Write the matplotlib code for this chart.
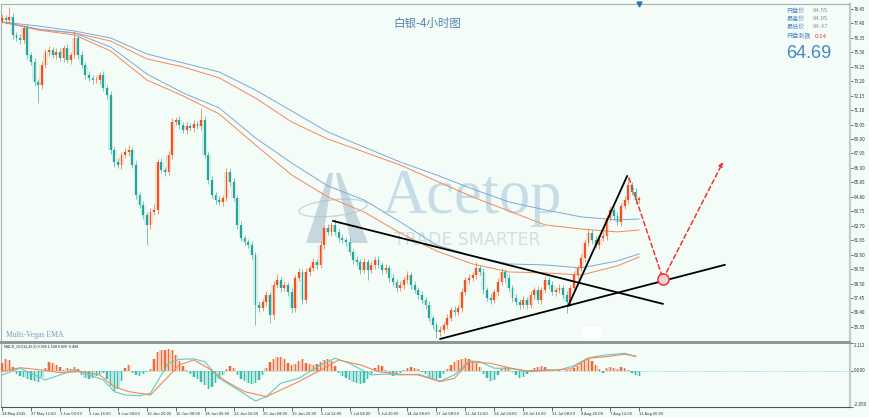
import numpy as np
import matplotlib
matplotlib.use("Agg")
import matplotlib.pyplot as plt
from matplotlib.patches import Polygon, Ellipse, Rectangle

plt.rcParams['font.family'] = ['Noto Sans CJK SC', 'DejaVu Sans']

# ---- candle data (4h bars, every 2nd bar) ----
first_open = 77.60
close = [
    77.80, 77.65, 77.87, 76.56, 76.34, 76.20, 77.07, 75.11, 74.60, 73.15,
    72.93, 74.38, 75.33, 75.47, 75.11, 75.33, 74.89, 75.62, 74.74, 75.11,
    76.34, 75.11, 74.38, 73.65, 73.44, 73.29, 73.29, 73.65, 72.71, 72.20,
    68.20, 67.33, 67.11, 67.84, 68.06, 68.20, 67.11, 64.93, 64.21, 63.48,
    62.76, 63.70, 63.85, 67.33, 66.75, 66.61, 67.84, 70.24, 70.38, 70.02,
    69.66, 69.95, 69.80, 70.09, 69.95, 70.38, 67.84, 66.02, 64.93, 64.57,
    64.43, 64.72, 66.61, 65.88, 64.72, 62.76, 61.81, 61.52, 61.30, 60.58,
    56.94, 56.72, 57.16, 57.67, 56.22, 58.40, 58.76, 58.18, 58.40, 57.89,
    56.72, 58.90, 59.34, 57.30, 59.34, 59.63, 60.07, 59.85, 61.30, 62.54,
    62.25, 62.76, 62.25, 61.81, 61.67, 61.52, 60.79, 60.21, 60.07, 59.49,
    60.07, 59.49, 59.85, 60.21, 59.85, 59.49, 59.63, 58.90, 58.61, 58.18,
    58.40, 58.76, 59.12, 58.40, 58.03, 57.67, 57.30, 56.94, 55.99, 55.49,
    54.98, 55.13, 55.49, 55.99, 56.57, 56.43, 56.72, 57.89, 58.76, 58.90,
    59.12, 59.63, 59.34, 58.03, 57.45, 57.30, 57.89, 58.61, 59.34, 58.90,
    58.18, 57.45, 57.16, 56.94, 57.30, 56.94, 57.67, 58.03, 57.30, 58.03,
    58.76, 58.40, 57.89, 58.03, 58.18, 57.67, 57.16, 58.18, 59.12, 59.63,
    60.36, 61.46, 62.18, 61.67, 61.30, 61.81, 61.96, 63.26, 63.85, 63.41,
    62.97, 64.14, 64.57, 65.66, 65.15, 64.57, 64.69,
]
upper_wick = [
    0.3, 0.2, 0.7, 0.3, 0.2, 0.3, 0.2, 0.3, 0.2, 0.3,
    0.2, 0.3, 0.2, 0.3, 0.2, 0.3, 0.3, 0.2, 0.3, 0.2,
    0.4, 0.2, 0.3, 0.2, 0.3, 0.2, 0.3, 0.2, 0.3, 0.2,
    0.3, 0.2, 0.3, 0.2, 0.3, 0.4, 0.2, 0.3, 0.2, 0.3,
    0.2, 0.3, 0.4, 0.2, 0.3, 0.2, 0.3, 0.3, 0.2, 0.3,
    0.2, 0.3, 0.2, 0.3, 0.2, 0.9, 0.3, 0.2, 0.3, 0.2,
    0.3, 0.2, 0.3, 0.2, 0.3, 0.2, 0.3, 0.2, 0.2, 0.3,
    0.2, 0.3, 0.2, 0.3, 0.2, 0.3, 0.4, 0.2, 0.3, 0.2,
    0.3, 0.2, 0.3, 0.2, 0.3, 0.2, 0.3, 0.2, 0.3, 0.2,
    0.3, 0.2, 0.4, 0.2, 0.3, 0.2, 0.3, 0.2, 0.3, 0.2,
    0.3, 0.2, 0.3, 0.2, 0.3, 0.2, 0.3, 0.2, 0.3, 0.2,
    0.3, 0.2, 0.3, 0.2, 0.3, 0.2, 0.3, 0.2, 0.3, 0.2,
    0.2, 0.3, 0.2, 0.3, 0.2, 0.3, 0.2, 0.3, 0.2, 0.3,
    0.2, 0.45, 0.2, 0.3, 0.2, 0.3, 0.2, 0.3, 0.3, 0.2,
    0.3, 0.2, 0.3, 0.2, 0.3, 0.2, 0.3, 0.2, 0.3, 0.2,
    0.3, 0.2, 0.3, 0.2, 0.3, 0.2, 0.3, 0.2, 0.3, 0.2,
    0.3, 0.2, 0.3, 0.2, 0.3, 0.2, 0.3, 0.2, 0.3, 0.2,
    0.3, 0.2, 0.3, 0.5, 0.2, 0.3, 0.2,
]
lower_wick = [
    0.2, 0.3, 0.2, 0.3, 0.2, 0.3, 0.2, 0.3, 0.2, 0.3,
    1.3, 0.3, 0.2, 0.3, 0.2, 0.3, 0.2, 0.3, 0.2, 0.3,
    0.2, 0.3, 0.2, 0.3, 0.2, 0.3, 0.2, 0.3, 0.2, 0.3,
    0.3, 0.4, 0.2, 0.3, 0.2, 0.3, 0.2, 0.3, 0.2, 0.3,
    1.45, 0.3, 0.2, 0.3, 0.2, 0.3, 0.2, 0.3, 0.2, 0.3,
    0.2, 0.3, 0.2, 0.3, 0.2, 0.3, 0.2, 0.3, 0.2, 0.3,
    0.2, 0.3, 0.2, 0.3, 0.2, 0.3, 0.2, 0.3, 0.2, 0.3,
    1.45, 0.3, 0.2, 0.3, 0.6, 0.3, 0.2, 0.3, 0.2, 0.3,
    0.36, 0.3, 0.2, 0.3, 0.2, 0.3, 0.2, 0.3, 0.2, 0.3,
    0.2, 0.3, 0.2, 0.3, 0.2, 0.3, 0.2, 0.3, 0.2, 0.3,
    0.2, 0.7, 0.2, 0.3, 0.2, 0.3, 0.2, 0.3, 0.2, 0.3,
    0.2, 0.3, 0.2, 0.3, 0.2, 0.3, 0.2, 0.3, 0.2, 0.3,
    0.45, 0.3, 0.2, 0.3, 0.2, 0.3, 0.2, 0.3, 0.2, 0.3,
    0.2, 0.3, 0.2, 0.3, 0.2, 0.3, 0.2, 0.3, 0.2, 0.3,
    0.2, 0.3, 0.2, 0.3, 0.2, 0.3, 0.2, 0.3, 0.2, 0.3,
    0.2, 0.3, 0.2, 0.3, 0.2, 0.3, 0.8, 0.3, 0.2, 0.3,
    0.2, 0.3, 0.2, 0.3, 0.2, 0.3, 0.2, 0.3, 0.2, 0.3,
    0.2, 0.3, 0.2, 0.3, 0.2, 0.3, 0.2,
]

# ---- Vegas EMA lines, sampled every 10 bars ----
ema_idx = [0, 10, 20, 30, 40, 50, 60, 70, 80, 90, 100, 110, 120, 130, 140, 150, 160, 170, 176]
ema_slow_blue = [77.50, 77.21, 76.85, 76.34, 75.18, 74.53, 73.87, 72.56, 71.04, 69.51,
                 68.42, 67.33, 66.39, 65.37, 64.43, 63.85, 63.34, 63.12, 63.19]
ema_slow_orange = [77.50, 76.98, 76.71, 76.12, 74.82, 74.24, 73.44, 71.98, 70.24, 69.00,
                   68.06, 67.11, 65.95, 64.79, 63.77, 62.76, 62.46, 62.25, 62.39]
ema_fast_blue = [77.50, 76.98, 76.71, 75.69, 73.73, 72.35, 71.26, 69.08, 67.26, 65.59,
                 64.57, 62.97, 61.30, 60.50, 59.92, 59.85, 59.63, 60.14, 60.65]
ema_fast_orange = [77.50, 76.92, 76.56, 75.40, 73.29, 72.13, 70.82, 68.57, 66.39, 64.79,
                   63.70, 62.17, 60.87, 59.92, 59.34, 59.27, 59.12, 59.78, 60.43]

# ---- drawn trend lines and projection ----
tl_down_x, tl_down_y = [91.4, 182.6], [63.05, 57.02]
tl_up_x, tl_up_y = [121.0, 199.7], [54.47, 59.86]
tl_steep_x, tl_steep_y = [156.4, 172.7], [56.87, 66.32]
proj_x = [173.2, 182.6, 199.2]
proj_y = [66.17, 58.83, 67.33]

# ---- MACD ----
macd_hist = [
    0.60, 0.90, 0.82, 0.30, -0.22, -0.37, -0.45, -0.60, -0.67, -0.75,
    -0.82, -0.45, 0.22, 0.67, 0.60, 0.45, 0.30, 0.07, 0.22, 0.15,
    0.30, 0.15, -0.30, -0.52, -0.60, -0.52, -0.37, -0.22, -0.15, -0.60,
    -1.12, -1.50, -1.35, -0.75, 0.22, 0.45, -0.15, -0.30, -0.37, -0.22,
    -0.07, 0.15, 0.90, 1.42, 1.57, 1.57, 1.65, 1.57, 1.20, 0.75,
    0.37, 0.07, -0.22, -0.45, -0.60, -0.82, -1.05, -1.35, -1.20, -0.90,
    -0.60, -0.30, 0.15, 0.37, 0.22, -0.30, -0.60, -0.75, -0.90, -0.97,
    -0.90, -0.67, -0.30, 0.22, 0.67, 0.90, 1.05, 1.05, 0.90, 0.60,
    0.45, 0.52, 0.75, 0.90, 0.60, 0.52, 0.45, 0.52, 0.67, 0.82,
    0.90, 0.75, 0.37, -0.15, -0.37, -0.52, -0.67, -0.82, -0.90, -0.97,
    -0.90, -0.60, -0.22, 0.22, 0.45, 0.37, 0.07, -0.22, -0.37, -0.30,
    -0.15, 0.07, 0.22, 0.30, 0.22, 0.15, -0.07, -0.22, -0.45, -0.60,
    -0.60, -0.52, -0.22, 0.15, 0.45, 0.67, 0.82, 0.90, 0.97, 0.90,
    0.75, 0.60, 0.30, -0.22, -0.52, -0.75, -0.67, -0.30, 0.15, 0.30,
    0.22, -0.07, -0.30, -0.52, -0.45, -0.22, 0.07, 0.22, 0.30, 0.37,
    0.30, 0.15, 0.04, -0.04, 0.04, -0.04, 0.04, 0.07, 0.22, 0.37,
    0.60, 0.82, 0.90, 0.75, 0.45, 0.15, -0.15, 0.22, 0.30, 0.22,
    0.15, 0.30, 0.22, 0.07, -0.15, -0.30, -0.37,
]
macd_main_idx = [0, 5, 9, 12, 16, 20, 24, 28, 31, 34, 38, 41, 44, 46, 49, 53, 56, 60, 66, 70,
                 73, 77, 82, 88, 92, 96, 102, 106, 110, 115, 121, 125, 129, 132, 136, 140,
                 144, 149, 154, 158, 162, 167, 172, 175]
macd_main = [-0.32, 0.18, -0.32, -0.70, -0.32, 0.05, -0.32, -0.70, -1.57, -1.82, -1.87, -1.69,
             -0.32, 0.55, 0.85, 0.88, 0.67, -0.57, -1.57, -2.27, -1.95, -0.94, -0.57, 0.43,
             0.93, 0.55, -0.32, -0.25, -0.32, -0.27, -0.77, -0.32, 0.73, 0.67, 0.18, 0.18,
             -0.02, 0.03, 0.05, 0.37, 0.97, 1.18, 1.30, 1.05]
macd_sig_idx = [0, 5, 11, 16, 22, 27, 31, 35, 41, 45, 49, 53, 57, 62, 67, 73, 77, 82, 88, 93,
                99, 104, 110, 115, 121, 125, 129, 135, 140, 146, 151, 157, 162, 167, 172, 175]
macd_sig = [-0.07, 0.22, 0.05, -0.15, -0.07, -0.32, -1.20, -1.57, -1.82, -0.70, 0.43, 0.80,
            0.18, -0.82, -1.57, -1.95, -1.45, -0.82, 0.05, 0.80, 0.43, -0.07, -0.27, -0.32,
            -0.82, -0.57, 0.67, 0.55, 0.22, -0.07, 0.03, 0.13, 0.93, 1.05, 1.23, 1.10]

# ---- axis labels ----
price_ticks = [78.45, 77.40, 76.35, 75.30, 74.25, 73.20, 72.15, 71.10, 70.05, 69.00, 67.95, 66.90,
               65.85, 64.80, 63.75, 62.70, 61.65, 60.60, 59.55, 58.50, 57.45, 56.40, 55.35]
date_labels = ['24 May 2025', '27 May 12:00', '1 Jun 00:00', '3 Jun 16:00', '8 Jun 04:00',
               '10 Jun 20:00', '15 Jun 08:00', '18 Jun 00:00', '22 Jun 16:00', '25 Jun 08:00',
               '29 Jun 20:00', '2 Jul 12:00', '7 Jul 04:00', '9 Jul 20:00', '14 Jul 08:00',
               '17 Jul 08:00', '21 Jul 12:00', '24 Jul 04:00', '28 Jul 16:00', '31 Jul 08:00',
               '4 Aug 20:00', '7 Aug 12:00', '12 Aug 00:00']
info_names = ['开盘价', '最高价', '最低价', '开盘涨跌']
info_values = ['64.55', '64.95', '64.47', '0.14']
last_price = '64.69'

BG = '#f3fcf6'
UP = '#f4511e'
DOWN = '#26a69a'
BLUE = '#7ea9d8'
ORANGE = '#f5875c'
RED = '#ee3535'

W, H = 870, 417
def fx(px):
    return px / W
def fy(py):
    return 1 - py / H

fig = plt.figure(figsize=(8.7, 4.17), dpi=100)
fig.patch.set_facecolor(BG)
ax = fig.add_axes([fx(1), fy(342), fx(850) - fx(1), fy(4) - fy(342)])
axm = fig.add_axes([fx(1), fy(407), fx(850) - fx(1), fy(343) - fy(407)])
for a in (ax, axm):
    a.set_facecolor(BG)
    a.set_xlim(-0.28, 234.25)

# candles
c = np.array(close)
x = np.arange(len(c))
o = np.r_[first_open, c[:-1]]
hi = np.maximum(o, c) + np.array(upper_wick)
lo = np.minimum(o, c) - np.array(lower_wick)
cols = np.where(c >= o, UP, DOWN)
ax.bar(x, c - o, bottom=o, width=1.3, color=cols, alpha=0.16, zorder=2)
ax.vlines(x, lo, hi, colors=cols, lw=0.6, alpha=0.7, zorder=3)
ax.bar(x, c - o, bottom=o, width=0.5, color=cols, zorder=4)

# EMA lines
ax.plot(ema_idx, ema_slow_blue, color=BLUE, lw=0.7, zorder=2.5)
ax.plot(ema_idx, ema_slow_orange, color=ORANGE, lw=0.7, zorder=2.5)
ax.plot(ema_idx, ema_fast_blue, color=BLUE, lw=0.7, zorder=2.5)
ax.plot(ema_idx, ema_fast_orange, color=ORANGE, lw=0.7, zorder=2.5)

# trend lines
for tx, ty in ((tl_down_x, tl_down_y), (tl_up_x, tl_up_y), (tl_steep_x, tl_steep_y)):
    ax.plot(tx, ty, color='black', lw=1.3, zorder=6, solid_capstyle='round')

# projection arrows
for k in range(2):
    ax.annotate('', xy=(proj_x[k + 1], proj_y[k + 1]), xytext=(proj_x[k], proj_y[k]),
                arrowprops=dict(arrowstyle='-|>', color=RED, lw=1.1, linestyle=(0, (3, 2)),
                                mutation_scale=6, shrinkA=0, shrinkB=0), zorder=7)
ax.plot(proj_x[1], proj_y[1], 'o', ms=8, mfc='#f8d2d2', mec=RED, mew=1.1, zorder=8)

ax.set_ylim(54.25, 78.81)

# watermark
ax.text(fx(472), fy(213), 'Acetop', transform=fig.transFigure, fontsize=45,
        family='Liberation Serif', color='#a9c9de', alpha=0.6, ha='center', va='baseline', zorder=1)
ax.text(fx(467), fy(245), 'TRADE SMARTER', transform=fig.transFigure, fontsize=12.5,
        family='DejaVu Sans', color='#c4d2da', alpha=0.7, ha='center', va='baseline', zorder=1)
logo = '#a9bfcf'
ax.add_patch(Polygon([(fx(306), fy(243)), (fx(329), fy(173)), (fx(333), fy(173)), (fx(322), fy(243))],
                     closed=True, transform=fig.transFigure, fc=logo, ec='none', alpha=0.6, zorder=1))
ax.add_patch(Polygon([(fx(336), fy(173)), (fx(340), fy(173)), (fx(368), fy(243)), (fx(351), fy(243))],
                     closed=True, transform=fig.transFigure, fc=logo, ec='none', alpha=0.6, zorder=1))
ax.add_patch(Ellipse((fx(333), fy(208)), fx(70), 16 / H, angle=15, transform=fig.transFigure,
                     fc='none', ec=logo, lw=1.0, alpha=0.6, zorder=1))

ax.text(0.006, 0.01, 'Multi-Vegas EMA', transform=ax.transAxes, fontsize=5.6,
        family='Liberation Serif', color='#7a9cc6', ha='left', va='bottom')

# blank patch near the bottom
ax.add_patch(Rectangle((fx(582), fy(338)), fx(20), 11 / H, transform=fig.transFigure,
                       fc='white', ec='none', zorder=9))

# right price axis
ax.yaxis.tick_right()
ax.set_yticks(price_ticks)
ax.set_yticklabels([f'{v:.2f}' for v in price_ticks])
ax.tick_params(axis='y', labelsize=3.3, length=2, width=0.5, pad=1, colors='#333333')
ax.set_xticks([])
ax.plot(176, 78.81, marker='v', color='#2f6fc2', ms=3.5, clip_on=False, zorder=10)

# MACD panel
hx = np.arange(len(macd_hist))
hv = np.array(macd_hist)
hcols = np.where(hv >= 0, '#f26a38', '#3dbdae')
axm.axhline(0, color='#7fd6cd', lw=0.6, ls=(0, (1.5, 1.5)), zorder=1)
axm.bar(hx, hv, width=1.0, color=hcols, alpha=0.3, zorder=2)
axm.bar(hx, hv, width=0.35, color=hcols, zorder=3)
axm.plot(macd_main_idx, macd_main, color='#62cbc2', lw=0.8, zorder=4)
axm.plot(macd_sig_idx, macd_sig, color='#f4865e', lw=0.8, zorder=4)
axm.set_ylim(-2.72, 2.07)
axm.yaxis.tick_right()
axm.set_yticks([-2.72, 0, 2.07])
axm.set_yticklabels(['-2.059', '0.000', '2.112'])
axm.tick_params(axis='y', labelsize=3.3, length=2, width=0.5, pad=1, colors='#333333')
for lab, va in zip(axm.get_yticklabels(), ['bottom', 'center', 'top']):
    lab.set_va(va)
axm.text(0.003, 0.985, 'MACD_DU(12,26,9) 0.960 1.168 0.009 -0.408', transform=axm.transAxes,
         fontsize=2.7, color='#222222', ha='left', va='top')

# date axis
axm.set_xticks(np.arange(0, 8 * len(date_labels), 8))
axm.set_xticklabels(date_labels, ha='left')
axm.tick_params(axis='x', labelsize=3.0, length=3, width=0.5, pad=0.5, colors='#333333')

# borders
for a in (ax, axm):
    for s in a.spines.values():
        s.set_color('#a8b0b0')
        s.set_linewidth(0.8)
    a.spines['right'].set_color('#c5cccc')
    a.spines['right'].set_linewidth(1.6)
ax.spines['bottom'].set_color('#8f9696')
ax.spines['bottom'].set_linewidth(1.4)
axm.spines['top'].set_color('#8f9696')
axm.spines['top'].set_linewidth(1.4)
axm.spines['bottom'].set_color('#555555')

# title and info box
fig.text(fx(427), fy(23), '白银-4小时图', fontsize=8.3, color='#5582b3', ha='center', va='center')
for k, (nm, val) in enumerate(zip(info_names, info_values)):
    yy = [11, 19, 27, 36][k]
    fig.text(fx(787), fy(yy), nm, fontsize=4.4, color='#5b8ac7', ha='left', va='center')
    fig.text(fx(813) if k < 3 else fx(815), fy(yy), val, fontsize=4.4,
             color='#999999' if k < 3 else RED, ha='left', va='center', family='Liberation Sans')
fig.text(fx(786), fy(53), last_price, fontsize=13, color='#4a86c5', ha='left', va='center',
         family='Liberation Sans')

fig.savefig('out.png', dpi=100, facecolor=BG)
